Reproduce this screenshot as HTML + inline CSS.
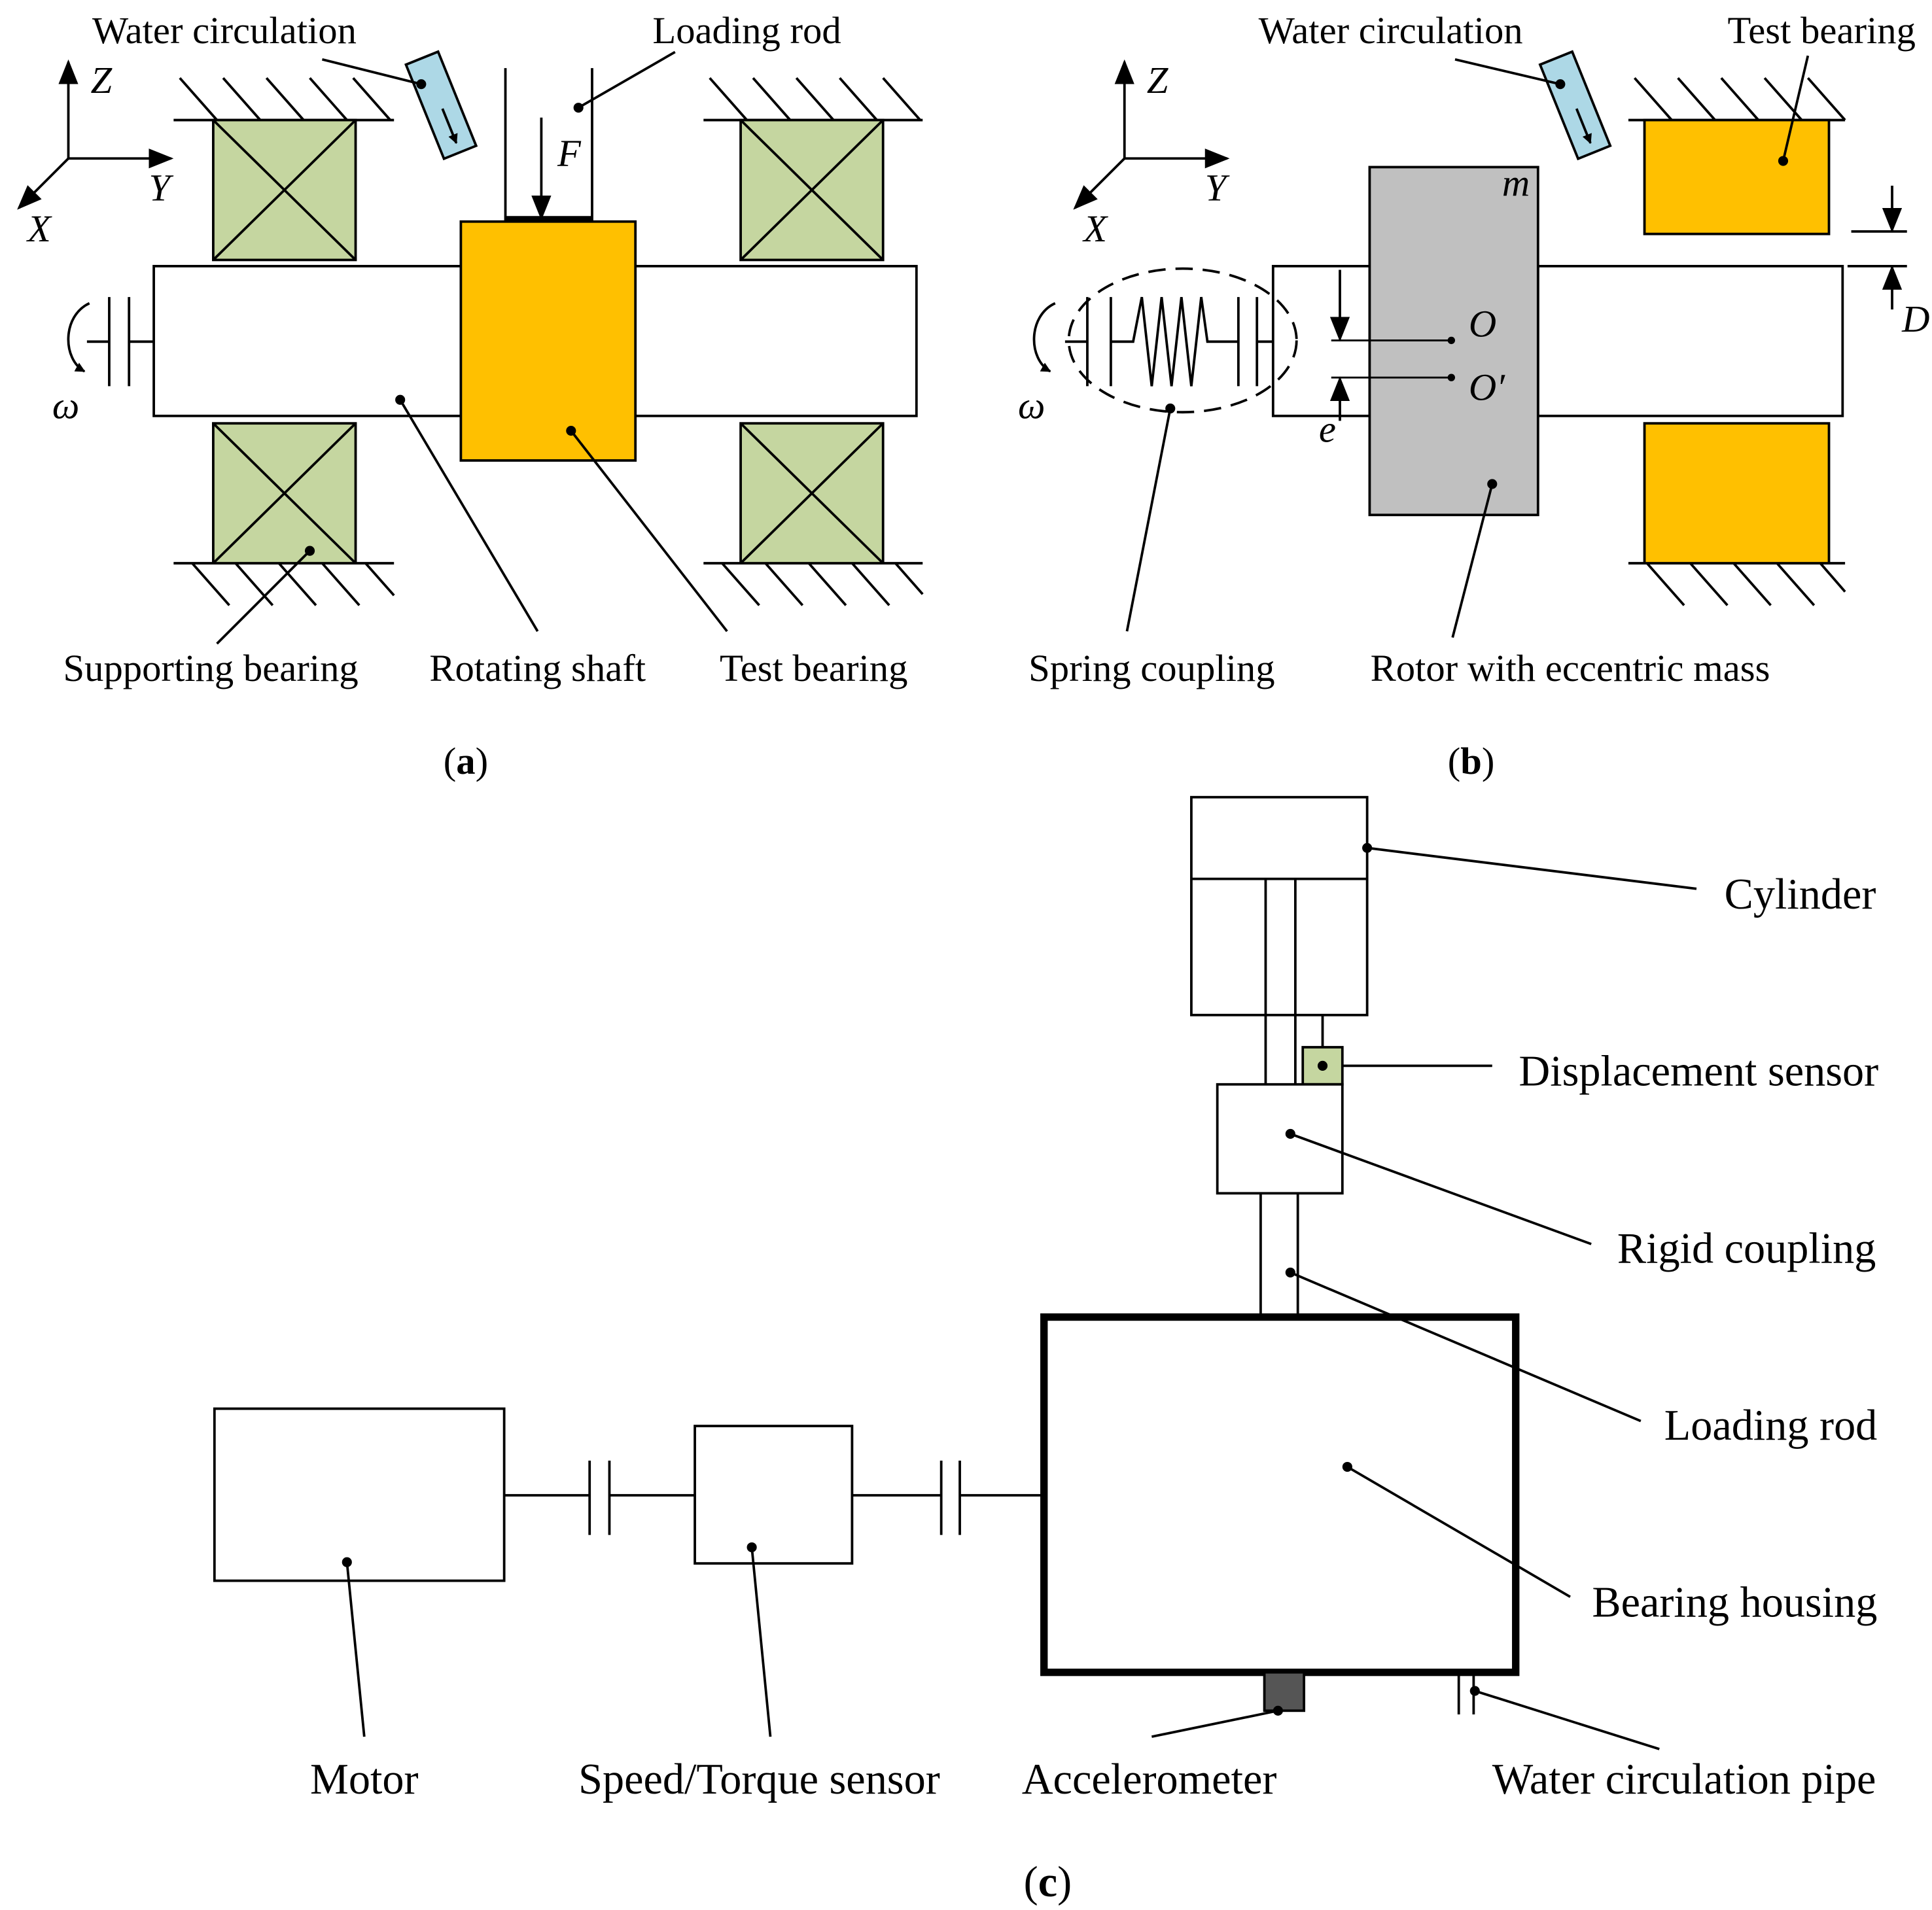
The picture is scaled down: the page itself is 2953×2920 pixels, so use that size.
<!DOCTYPE html>
<html><head><meta charset="utf-8"><style>
html,body{margin:0;padding:0;background:#fff}
svg{display:block}
text{font-family:"Liberation Serif",serif;font-size:31px;fill:#000}
.i{font-style:italic}
.m{text-anchor:middle}
.e{text-anchor:end}
.c{font-size:35px}
</style></head><body>
<svg width="2953" height="2920" viewBox="0 0 1560 1543" xmlns="http://www.w3.org/2000/svg">
<defs>
<marker id="ah" viewBox="0 0 10 10" refX="9" refY="5" markerWidth="8" markerHeight="8" markerUnits="userSpaceOnUse" orient="auto"><path d="M0,0 L10,5 L0,10 z" fill="#000"/></marker>
<marker id="ab" viewBox="0 0 10 10" refX="9" refY="5" markerWidth="20" markerHeight="20" markerUnits="userSpaceOnUse" orient="auto"><path d="M0,1 L10,5 L0,9 z" fill="#000"/></marker>
</defs>
<g stroke="#000" stroke-width="2" fill="none">
<line x1="55" y1="128" x2="55" y2="50" marker-end="url(#ab)"/>
<line x1="55" y1="128" x2="138" y2="128" marker-end="url(#ab)"/>
<line x1="55" y1="128" x2="15" y2="168" marker-end="url(#ab)"/>
<line x1="140" y1="97" x2="318" y2="97"/>
<path d="M145,63 L175,97 M180,63 L210,97 M215,63 L245,97 M250,63 L280,97 M285,63 L315,97"/>
<line x1="568" y1="97" x2="745" y2="97"/>
<path d="M573,63 L603,97 M608,63 L638,97 M643,63 L673,97 M678,63 L708,97 M713,63 L743,97"/>
<line x1="140" y1="455" x2="318" y2="455"/>
<path d="M155,455 L185,489 M190,455 L220,489 M225,455 L255,489 M260,455 L290,489 M295,455 L318,481"/>
<line x1="568" y1="455" x2="745" y2="455"/>
<path d="M583,455 L613,489 M618,455 L648,489 M653,455 L683,489 M688,455 L718,489 M723,455 L745,480"/>
<g fill="#c5d6a0">
<rect x="172" y="97" width="115" height="113"/><rect x="598" y="97" width="115" height="113"/>
<rect x="172" y="342" width="115" height="113"/><rect x="598" y="342" width="115" height="113"/>
</g>
<path d="M172,97 L287,210 M287,97 L172,210 M598,97 L713,210 M713,97 L598,210 M172,342 L287,455 M287,342 L172,455 M598,342 L713,455 M713,342 L598,455"/>
<rect x="124" y="215" width="616" height="121" fill="#fff"/>
<rect x="372" y="179" width="141" height="193" fill="#ffc000"/>
<path d="M408,55 V179 M478,55 V179"/>
<line x1="408" y1="177" x2="478" y2="177" stroke-width="5"/>
<line x1="437" y1="95" x2="437" y2="176" marker-end="url(#ab)"/>
<path d="M88,240 V312 M104,240 V312 M104,276 H124 M70,276 H88"/>
<path d="M72,245 C50,255 50,290 68,300" marker-end="url(#ah)"/>
<g transform="rotate(-22 356 85)"><rect x="342" y="44" width="28" height="82" fill="#add8e6"/><line x1="356" y1="88" x2="356" y2="118" marker-end="url(#ah)"/></g>
<path d="M260,48 L340,68 M545,42 L467,87 M175,520 L250,445 M434,510 L323,323 M587,510 L461,348"/>
<line x1="908" y1="128" x2="908" y2="50" marker-end="url(#ab)"/>
<line x1="908" y1="128" x2="991" y2="128" marker-end="url(#ab)"/>
<line x1="908" y1="128" x2="868" y2="168" marker-end="url(#ab)"/>
<g transform="rotate(-22 1272 85)"><rect x="1258" y="44" width="28" height="82" fill="#add8e6"/><line x1="1272" y1="88" x2="1272" y2="118" marker-end="url(#ah)"/></g>
<line x1="1315" y1="97" x2="1490" y2="97"/>
<path d="M1320,63 L1350,97 M1355,63 L1385,97 M1390,63 L1420,97 M1425,63 L1455,97 M1460,63 L1490,97"/>
<line x1="1315" y1="455" x2="1490" y2="455"/>
<path d="M1330,455 L1360,489 M1365,455 L1395,489 M1400,455 L1430,489 M1435,455 L1465,489 M1470,455 L1490,478"/>
<rect x="1328" y="97" width="149" height="92" fill="#ffc000"/>
<rect x="1328" y="342" width="149" height="113" fill="#ffc000"/>
<rect x="1028" y="215" width="78" height="121" fill="#fff"/>
<rect x="1242" y="215" width="246" height="121" fill="#fff"/>
<rect x="1106" y="135" width="136" height="281" fill="#c0c0c0"/>
<path d="M1495,187 H1540 M1492,215 H1540"/>
<line x1="1528" y1="150" x2="1528" y2="186" marker-end="url(#ab)"/>
<line x1="1528" y1="250" x2="1528" y2="216" marker-end="url(#ab)"/>
<path d="M1075,275 H1172 M1075,305 H1172" stroke-width="1.5"/>
<line x1="1082" y1="218" x2="1082" y2="274" marker-end="url(#ab)"/>
<line x1="1082" y1="340" x2="1082" y2="306" marker-end="url(#ab)"/>
<ellipse cx="955" cy="275" rx="92" ry="58" stroke-dasharray="14,8"/>
<path d="M878,240 V312 M897,240 V312 M878,276 H860 M897,276 H915 L922,240 L930,312 L938,240 L946,312 L954,240 L962,312 L970,240 L975,276 H1000 M1000,240 V312 M1015,240 V312 M1015,276 H1028"/>
<path d="M852,245 C830,255 830,290 848,300" marker-end="url(#ah)"/>
<path d="M1175,48 L1260,68 M1460,45 L1440,130 M910,510 L945,330 M1173,515 L1205,391"/>
<rect x="962" y="644" width="142" height="176"/>
<line x1="962" y1="710" x2="1104" y2="710"/>
<path d="M1022,710 V876 M1046,710 V876 M1068,820 V846"/>
<rect x="1052" y="846" width="32" height="30" fill="#c5d6a0"/>
<rect x="983" y="876" width="101" height="88" fill="#fff"/>
<path d="M1018,964 V1064 M1048,964 V1064"/>
<rect x="843" y="1064" width="381" height="287" stroke-width="6"/>
<rect x="1021" y="1351" width="32" height="31" fill="#555"/>
<path d="M1178,1353 V1385 M1190,1353 V1385"/>
<rect x="173" y="1138" width="234" height="139"/>
<rect x="561" y="1152" width="127" height="111"/>
<path d="M407,1208 H476 M476,1180 V1240 M492,1180 V1240 M492,1208 H561 M688,1208 H760 M760,1180 V1240 M775,1180 V1240 M775,1208 H843"/>
<path d="M1104,685 L1370,718 M1084,861 L1205,861 M1042,916 L1285,1005 M1042,1028 L1325,1148 M1088,1185 L1268,1290 M1191,1366 L1340,1413 M1032,1382 L930,1403 M280,1262 L294,1403 M607,1250 L622,1403"/>
</g>
<g fill="#000">
<circle cx="340" cy="68" r="4"/><circle cx="467" cy="87" r="4"/><circle cx="250" cy="445" r="4"/><circle cx="323" cy="323" r="4"/><circle cx="461" cy="348" r="4"/>
<circle cx="1260" cy="68" r="4"/><circle cx="1440" cy="130" r="4"/><circle cx="945" cy="330" r="4"/><circle cx="1205" cy="391" r="4"/><circle cx="1172" cy="275" r="3"/><circle cx="1172" cy="305" r="3"/>
<circle cx="1104" cy="685" r="4"/><circle cx="1068" cy="861" r="4"/><circle cx="1042" cy="916" r="4"/><circle cx="1042" cy="1028" r="4"/><circle cx="1088" cy="1185" r="4"/><circle cx="1191" cy="1366" r="4"/><circle cx="1032" cy="1382" r="4"/><circle cx="280" cy="1262" r="4"/><circle cx="607" cy="1250" r="4"/>
</g>
<text class="m" x="181" y="35">Water circulation</text>
<text class="m" x="603" y="35">Loading rod</text>
<text class="i" x="73" y="75">Z</text><text class="i" x="120" y="162">Y</text><text class="i" x="22" y="195">X</text>
<text class="i" x="450" y="134">F</text>
<text class="i" x="42" y="338">ω</text>
<text class="m" x="170" y="550">Supporting bearing</text>
<text class="m" x="434" y="550">Rotating shaft</text>
<text class="m" x="657" y="550">Test bearing</text>
<text class="m" x="376" y="625">(<tspan font-weight="bold">a</tspan>)</text>
<text class="m" x="1123" y="35">Water circulation</text>
<text class="e" x="1547" y="35">Test bearing</text>
<text class="i" x="926" y="75">Z</text><text class="i" x="973" y="162">Y</text><text class="i" x="875" y="195">X</text>
<text class="i" x="1213" y="158" font-size="24">m</text>
<text class="i" x="1536" y="268">D</text>
<text class="i" x="1186" y="272">O</text><text class="i" x="1186" y="323">O′</text>
<text class="i" x="1065" y="357">e</text>
<text class="i" x="822" y="338">ω</text>
<text class="m" x="930" y="550">Spring coupling</text>
<text class="m" x="1268" y="550">Rotor with eccentric mass</text>
<text class="m" x="1188" y="625">(<tspan font-weight="bold">b</tspan>)</text>
<text class="e c" x="1515" y="734">Cylinder</text>
<text class="e c" x="1517" y="877">Displacement sensor</text>
<text class="e c" x="1515" y="1020">Rigid coupling</text>
<text class="e c" x="1516" y="1163">Loading rod</text>
<text class="e c" x="1516" y="1306">Bearing housing</text>
<text class="e c" x="1515" y="1449">Water circulation pipe</text>
<text class="m c" x="928" y="1449">Accelerometer</text>
<text class="m c" x="613" y="1449">Speed/Torque sensor</text>
<text class="m c" x="294" y="1449">Motor</text>
<text class="m c" x="846" y="1532">(<tspan font-weight="bold">c</tspan>)</text>
</svg>
</body></html>
